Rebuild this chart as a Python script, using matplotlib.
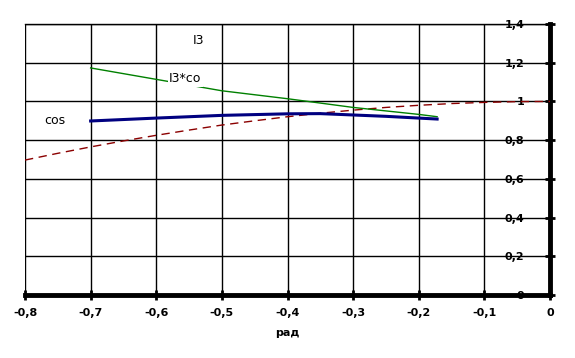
import matplotlib
matplotlib.use("Agg")
import matplotlib.pyplot as plt

# data
x_cos = [-0.8, -0.75, -0.7, -0.65, -0.6, -0.55, -0.5, -0.45, -0.4, -0.35, -0.3, -0.25, -0.2, -0.15, -0.1, -0.05, 0.0]
y_cos = [0.697, 0.732, 0.765, 0.796, 0.825, 0.852, 0.878, 0.900, 0.921, 0.939, 0.955, 0.969, 0.980, 0.989, 0.995, 0.999, 1.0]

x_i3co = [-0.7, -0.6, -0.5, -0.4, -0.3, -0.2, -0.172]
y_i3co = [1.173, 1.114, 1.055, 1.014, 0.969, 0.933, 0.921]

x_blue = [-0.7, -0.6, -0.5, -0.4, -0.35, -0.3, -0.25, -0.2, -0.172]
y_blue = [0.899, 0.914, 0.928, 0.936, 0.937, 0.930, 0.923, 0.914, 0.909]

xticks = [-0.8, -0.7, -0.6, -0.5, -0.4, -0.3, -0.2, -0.1, 0.0]
xticklabels = ["-0,8", "-0,7", "-0,6", "-0,5", "-0,4", "-0,3", "-0,2", "-0,1", "0"]
yticks = [0, 0.2, 0.4, 0.6, 0.8, 1.0, 1.2, 1.4]
yticklabels = ["0", "0,2", "0,4", "0,6", "0,8", "1", "1,2", "1,4"]

fig = plt.figure(figsize=(5.75, 3.58), dpi=100)
ax = fig.add_axes([25/575, 1-295/358, 525/575, 271/358])
ax.set_xlim(-0.8, 0.0)
ax.set_ylim(0, 1.4)

ax.plot(x_cos, y_cos, color="#8b0000", lw=1.0, dashes=(6, 4), zorder=3)
ax.plot(x_i3co, y_i3co, color="#008000", lw=1.0, zorder=3)
ax.plot(x_blue, y_blue, color="#000080", lw=2.2, zorder=4)

ax.set_xticks(xticks)
ax.set_xticklabels(xticklabels, fontsize=8, fontweight="bold")
ax.set_yticks(yticks)
ax.set_yticklabels(yticklabels, fontsize=8, fontweight="bold")
ax.grid(True, color="black", lw=1.0, zorder=0)
ax.set_axisbelow(True)

ax.yaxis.tick_right()
ax.tick_params(axis="y", direction="inout", length=7, width=2, pad=-22, labelright=True)
for lbl in ax.get_yticklabels():
    lbl.set_horizontalalignment("right")
ax.tick_params(axis="x", direction="inout", length=7, width=2, pad=6)

ax.spines["left"].set_visible(False)
ax.spines["top"].set_linewidth(1.0)
ax.spines["right"].set_linewidth(3.5)
ax.spines["bottom"].set_linewidth(3.5)

ax.set_xlabel("рад", fontsize=8, fontweight="bold", labelpad=7)

ax.text(-0.535, 1.317, "I3", fontsize=9, ha="center", va="center", zorder=5)
ax.text(-0.556, 1.116, "I3*co", fontsize=9, ha="center", va="center", zorder=5,
        bbox=dict(facecolor="white", edgecolor="none", pad=1))
ax.text(-0.755, 0.904, "cos", fontsize=9, ha="center", va="center", zorder=5,
        bbox=dict(facecolor="white", edgecolor="none", pad=1))

fig.savefig("out.png", dpi=100)
